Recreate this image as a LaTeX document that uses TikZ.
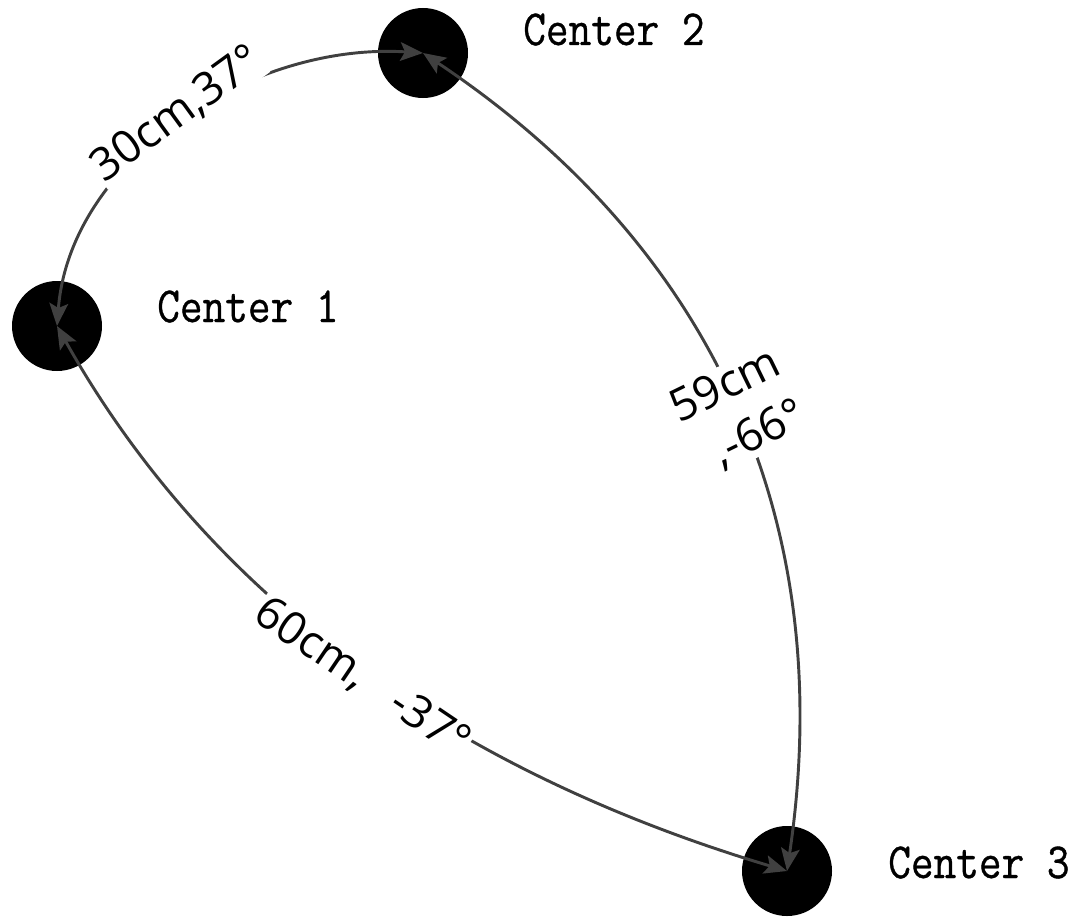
\documentclass[tikz,border=0pt]{standalone}
\usepackage{fontspec}
\newfontfamily\lblfont{Open Sans}
\newfontfamily\hubfont[FakeBold=0.8]{Latin Modern Mono}
\usetikzlibrary{arrows.meta}
\definecolor{linkgray}{HTML}{404040}
\tikzset{
  hub/.style={circle, fill=black, minimum size=67.5pt, inner sep=0pt},
  hubname/.style={anchor=base west, inner sep=0pt, font=\hubfont\fontsize{33}{40}\selectfont},
  endtip/.tip={Stealth[length=17pt,width=14pt,inset=3.5pt,color=linkgray]},
  link/.style={draw=linkgray, line width=2.2pt, endtip-endtip},
  dist/.style={fill=white, inner sep=1pt, text=black, font=\lblfont\fontsize{34}{41}\selectfont},
}
\begin{document}
\begin{tikzpicture}[x=0.75pt,y=-0.75pt]
\useasboundingbox (0,0) rectangle (1087,917);
% the three centres
\node[hub] (c1) at (57,326) {};
\node[hub] (c2) at (423,53) {};
\node[hub] (c3) at (787,871) {};
% their names
\node[hubname] (n1) at (157,322) {\scalebox{1}[1.15]{Center 1}};
\node[hubname] (n2) at (523,45) {\scalebox{1}[1.15]{Center 2}};
\node[hubname] (n3) at (888,878) {\scalebox{1}[1.15]{Center 3}};
% curved double-headed links
\draw[link] (c1.center) .. controls (70,160) and (250,42) .. (c2.center);
\draw[link] (c2.center) .. controls (712,246) and (839,521) .. (c3.center);
\draw[link] (c1.center) .. controls (228,630) and (499,785) .. (c3.center);
% distance / angle labels, laid over the links
\node[dist, rotate=36] (d12) at (177,114) {30cm,37°};
\node[dist, rotate=26, align=center] (d23) at (738,412)
  {59cm\\[2pt]\hspace*{14pt},-66°};
\node[dist, rotate=-34] (d13) at (362,678) {60cm,\hspace{0.8em}-37°};
\end{tikzpicture}
\end{document}
